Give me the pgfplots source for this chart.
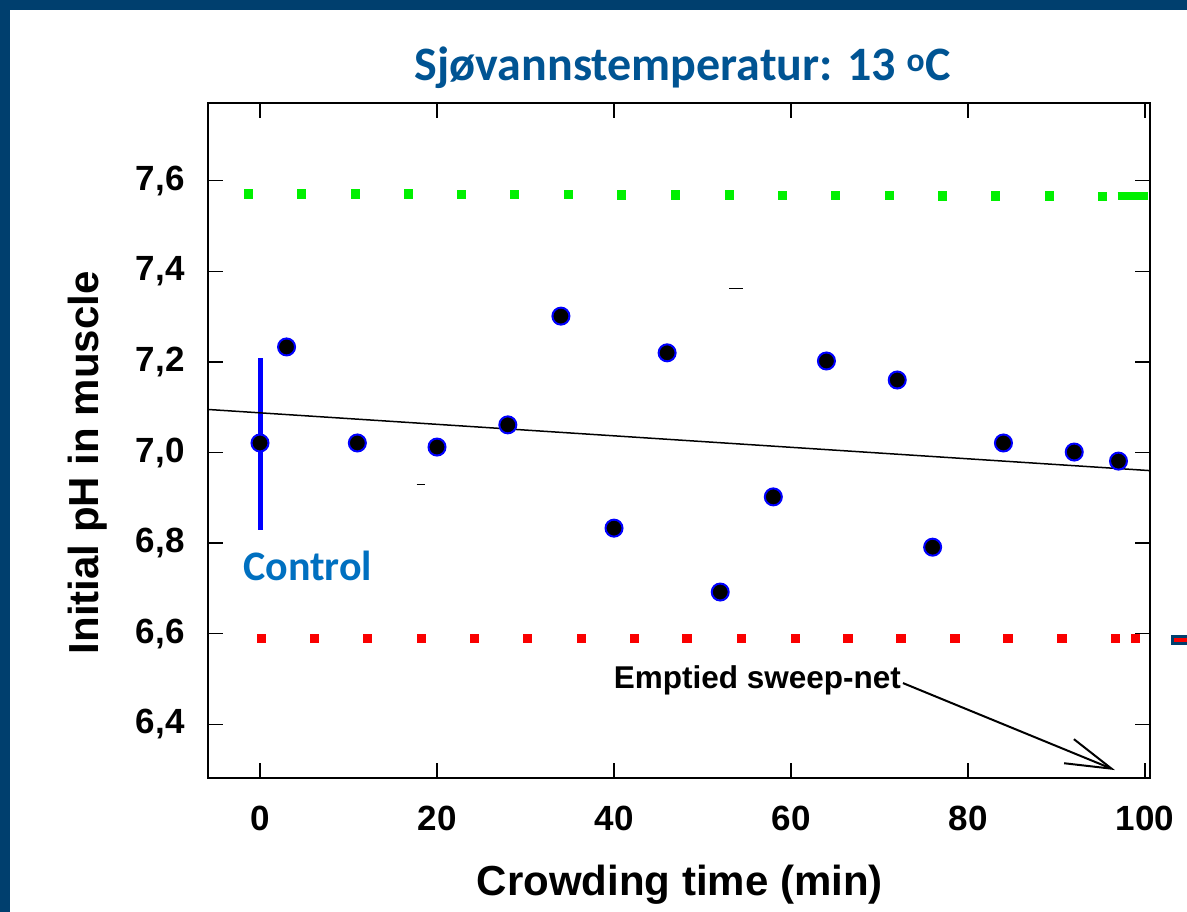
\documentclass[border=0pt]{standalone}
\usepackage{pgfplots}
\pgfplotsset{compat=1.18}
\usepackage{fontspec}
\setmainfont{Liberation Sans}
\newfontfamily\calib{Carlito}
\usetikzlibrary{arrows.meta}
\definecolor{frame}{RGB}{0,63,110}
\definecolor{ttl}{RGB}{0,84,147}
\definecolor{ctrl}{RGB}{0,112,192}
\definecolor{pgreen}{RGB}{0,240,0}
\definecolor{pred}{RGB}{250,0,0}
\begin{document}
\begin{tikzpicture}[x=1pt,y=1pt]
\fill[white] (0,0) rectangle (1187,912);
\fill[frame] (0,0) rectangle (10,912);
\fill[frame] (0,902) rectangle (1187,912);
\fill[frame] (1171,267) rectangle (1187,277);
\fill[pred] (1174,270) rectangle (1187,274);
\begin{axis}[
  at={(208pt,134pt)}, anchor=south west,
  width=942pt, height=675pt, scale only axis,
  xmin=-5.876, xmax=100.56, ymin=6.2815, ymax=7.7715,
  xtick={0,20,...,100}, ytick={6.4,6.6,...,7.6},
  tick align=inside, major tick length=15pt,
  xtick pos=both, ytick pos=both,
  axis line style={line width=1.6pt},
  every tick/.style={black, line width=1.3pt},
  /pgf/number format/assume math mode=true,
  y tick label style={/pgf/number format/use comma, /pgf/number format/fixed, /pgf/number format/fixed zerofill, /pgf/number format/precision=1},
  tick label style={font=\fontsize{35}{40}\selectfont\bfseries},
  xticklabel style={yshift=-25pt},
  yticklabel style={xshift=-20pt},
  xlabel={Crowding time (min)},
  ylabel={Initial pH in muscle},
  label style={font=\fontsize{42}{48}\selectfont\bfseries},
  xlabel style={at={(axis description cs:0.501,-0.1585)}, anchor=center},
  ylabel style={at={(axis description cs:-0.1274,0.4667)}, anchor=center},
  title={\calib\bfseries Sjøvannstemperatur: 13 \textsuperscript{o}C},
  title style={font=\fontsize{48}{54}\selectfont, text=ttl, at={(axis description cs:0.504,1.043)}, anchor=center},
  clip=false,
]
% green dotted line
\addplot[only marks, mark=square*, mark size=4.2pt, color=pgreen] coordinates {
(-1.36,7.571)(4.63,7.571)(10.73,7.571)(16.72,7.571)(22.71,7.570)(28.70,7.570)(34.80,7.570)(40.79,7.569)(46.89,7.569)(52.99,7.569)(58.98,7.568)(64.97,7.568)(71.07,7.568)(77.06,7.567)(83.05,7.567)(89.15,7.567)(95.14,7.566)};
\addplot[pgreen, line width=8.4pt] coordinates {(96.9,7.566)(100.3,7.566)};
% red dotted line
\addplot[only marks, mark=square*, mark size=4.2pt, color=pred] coordinates {
(0.11,6.5905)(6.1,6.5905)(12.1,6.5905)(18.2,6.5905)(24.2,6.5905)(30.2,6.5905)(36.3,6.5905)(42.3,6.5905)(48.2,6.5905)(54.4,6.5905)(60.5,6.5905)(66.4,6.5905)(72.4,6.5905)(78.5,6.5905)(84.5,6.5905)(90.6,6.5905)(96.6,6.5905)(98.9,6.5905)};
% control bar
\addplot[blue, line width=5pt] coordinates {(0,6.829)(0,7.2075)};
% regression line
\addplot[black, line width=1.5pt] coordinates {(-5.876,7.095)(100.56,6.960)};
% data
\addplot[only marks, mark=*, mark size=8.5pt, mark options={fill=black, draw=blue, line width=2pt}] coordinates {
(0,7.021)(3,7.233)(11,7.021)(20,7.012)(28,7.061)(34,7.301)(40,6.833)(46,7.220)(52,6.692)(58,6.902)(64,7.202)(72,7.160)(76,6.791)(84,7.021)(92,7.001)(97,6.981)};
% stray marks
\draw[black, line width=1pt] (axis cs:53.0,7.361) -- (axis cs:54.6,7.361);
\draw[black, line width=1pt] (axis cs:17.7,6.930) -- (axis cs:18.6,6.930);
% annotations
\node[text=ctrl, font=\calib\bfseries\fontsize{42}{48}\selectfont] at (axis cs:5.4,6.749) {Control};
\node[font=\fontsize{31.5}{36}\selectfont\bfseries] at (axis cs:56.2,6.498) {Emptied sweep-net};
\draw[line width=2pt, -{Straight Barb[length=46pt,width=26pt,line width=2pt]}] (axis cs:72.65,6.491) -- (axis cs:96.6,6.299);
\end{axis}
\end{tikzpicture}
\end{document}
